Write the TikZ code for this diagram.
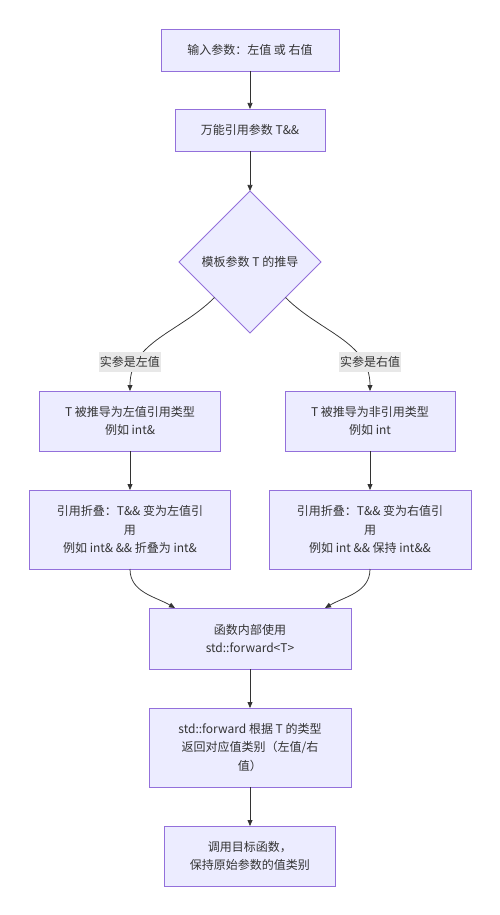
\documentclass[tikz,border=0pt]{standalone}
\usepackage{fontspec}
\setmainfont{Noto Sans CJK SC}
\usetikzlibrary{positioning,shapes.geometric,arrows.meta}

\definecolor{boxfill}{HTML}{ECECFF}
\definecolor{boxline}{HTML}{9370DB}
\definecolor{edgeline}{HTML}{333333}
\definecolor{labelfill}{HTML}{E8E8E8}

\tikzset{
  stepbox/.style={draw=boxline, fill=boxfill, align=center, inner sep=0pt, outer sep=0pt},
  choice/.style={diamond, draw=boxline, fill=boxfill, inner sep=0pt, outer sep=0pt,
    minimum width=142pt, minimum height=142pt},
  edgelabel/.style={fill=labelfill, inner xsep=1pt, inner ysep=0pt, outer sep=0pt, minimum height=20pt},
}

\begin{document}
\begin{tikzpicture}[node distance=39pt, color=edgeline, line width=0.75pt,
    >={Triangle[length=6pt,width=5pt]}, font=\fontsize{12}{18.5}\selectfont]

    \useasboundingbox (-250pt,50pt) rectangle (250pt,-865pt);

    % Nodes
    \node (input) [stepbox, minimum width=178pt, minimum height=42pt] {输入参数：左值 或 右值};
    \node (univ) [stepbox, below=38pt of input, minimum width=150pt, minimum height=42pt] {万能引用参数 T\&\&};
    \node (deduce) [choice, below=40pt of univ] {模板参数 T 的推导};
    \node (lref) [stepbox, below=58pt of deduce, xshift=-120pt, minimum width=181pt, minimum height=60pt]
        {T 被推导为左值引用类型\\例如 int\&};
    \node (rval) [stepbox, below=58pt of deduce, xshift=120pt, minimum width=170pt, minimum height=60pt]
        {T 被推导为非引用类型\\例如 int};
    \node (lfold) [stepbox, below=of lref, minimum width=201pt, minimum height=79pt]
        {引用折叠：T\&\& 变为左值引\\用\\例如 int\& \&\& 折叠为 int\&};
    \node (rfold) [stepbox, below=of rval, minimum width=202pt, minimum height=79pt]
        {引用折叠：T\&\& 变为右值引\\用\\例如 int \&\& 保持 int\&\&};
    \node (inner) [stepbox, below=of lfold, xshift=120pt, minimum width=202pt, minimum height=61pt]
        {函数内部使用\\std::forward<T>};
    \node (forward) [stepbox, below=of inner, minimum width=202pt, minimum height=79pt]
        {std::forward 根据 T 的类型\\返回对应值类别（左值/右\\值）};
    \node (call) [stepbox, below=of forward, minimum width=171pt, minimum height=60pt]
        {调用目标函数，\\保持原始参数的值类别};

    % Edges
    \draw[->] (input) -- (univ);
    \draw[->] (univ) -- (deduce);
    \draw[->] (deduce) to[out=-135, in=90] (lref);
    \draw[->] (deduce) to[out=-45, in=90] (rval);
    \draw[->] (lref) -- (lfold);
    \draw[->] (rval) -- (rfold);
    \draw[->] (lfold) to[out=-90, in=150] ([xshift=26pt]inner.north west);
    \draw[->] (rfold) to[out=-90, in=30] ([xshift=-26pt]inner.north east);
    \draw[->] (inner) -- (forward);
    \draw[->] (forward) -- (call);

    % Edge labels
    \node (lvalarg) [edgelabel, above=19pt of lref] {实参是左值};
    \node (rvalarg) [edgelabel, above=19pt of rval] {实参是右值};
\end{tikzpicture}
\end{document}
